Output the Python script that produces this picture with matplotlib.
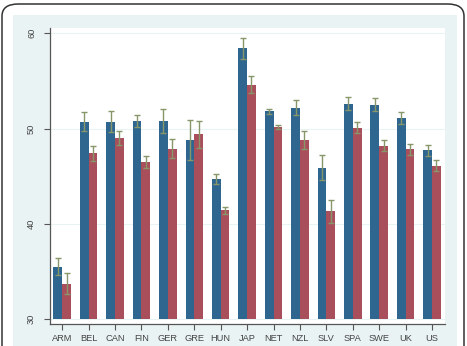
import matplotlib.pyplot as plt
from matplotlib.patches import FancyBboxPatch, Rectangle
import numpy as np

countries = ["ARM", "BEL", "CAN", "FIN", "GER", "GRE", "HUN", "JAP",
             "NET", "NZL", "SLV", "SPA", "SWE", "UK", "US"]
blue_vals = [35.5, 50.7, 50.7, 50.8, 50.8, 48.8, 44.7, 58.4,
             51.8, 52.2, 45.9, 52.6, 52.5, 51.1, 47.7]
blue_err = [0.9, 1.0, 1.1, 0.6, 1.3, 2.1, 0.5, 1.1,
            0.3, 0.8, 1.3, 0.7, 0.7, 0.6, 0.6]
red_vals = [33.7, 47.4, 49.0, 46.5, 47.9, 49.4, 41.4, 54.6,
            50.2, 48.8, 41.3, 50.1, 48.2, 47.8, 46.1]
red_err = [1.1, 0.8, 0.7, 0.6, 1.0, 1.4, 0.4, 0.9,
           0.2, 0.9, 1.2, 0.6, 0.6, 0.6, 0.6]

blue = "#2f6690"
red = "#a94f5c"
err_col = "#88976a"
bg = "#eaf3f4"

plt.rcParams["font.family"] = ["Liberation Sans", "DejaVu Sans"]

fig = plt.figure(figsize=(4.67, 3.46), dpi=100)
fig.patch.set_facecolor("white")

# outer rounded frame and Stata-like graph region
fig.patches.append(FancyBboxPatch((2 / 467, -0.05), 462 / 467, 1.0 - 4 / 346 + 0.05,
                                  boxstyle="round,pad=0,rounding_size=0.035",
                                  transform=fig.transFigure, facecolor="white",
                                  edgecolor="#333333", linewidth=1.1, zorder=-2))
fig.patches.append(Rectangle((13 / 467, 0), 444 / 467, 1 - 15 / 346,
                             transform=fig.transFigure, facecolor=bg,
                             edgecolor="none", zorder=-1))

ax = fig.add_axes([50 / 467, 1 - 324 / 346, 395 / 467, 296 / 346])
ax.set_zorder(1)
ax.set_facecolor("white")

x = np.arange(len(countries))
w = 0.33
ax.bar(x - w / 2, np.array(blue_vals) - 30, w, bottom=30, color=blue,
       linewidth=0, zorder=2)
ax.bar(x + w / 2, np.array(red_vals) - 30, w, bottom=30, color=red,
       linewidth=0, zorder=2)
ax.errorbar(x - w / 2, blue_vals, yerr=blue_err, fmt="none", ecolor=err_col,
            elinewidth=1, capsize=2.2, capthick=1, zorder=3)
ax.errorbar(x + w / 2, red_vals, yerr=red_err, fmt="none", ecolor=err_col,
            elinewidth=1, capsize=2.2, capthick=1, zorder=3)

ax.set_xlim(-0.46, len(countries) - 1 + 0.49)
ax.set_ylim(29.48, 60.55)
ax.set_yticks([30, 40, 50, 60])
ax.set_yticklabels(["30", "40", "50", "60"], rotation=90, va="center")
ax.set_xticks(x)
ax.set_xticklabels(countries)
ax.yaxis.grid(True, color=bg, linewidth=0.8, zorder=0)
ax.set_axisbelow(True)

for s in ["top", "right"]:
    ax.spines[s].set_visible(False)
for s in ["left", "bottom"]:
    ax.spines[s].set_color("#555555")
    ax.spines[s].set_linewidth(0.9)
ax.tick_params(axis="both", direction="out", length=4, width=0.8,
               color="#555555", labelsize=6.7, labelcolor="#444444", pad=3)
ax.tick_params(axis="y", pad=6)

fig.savefig("out.png", dpi=100, facecolor=fig.get_facecolor())
